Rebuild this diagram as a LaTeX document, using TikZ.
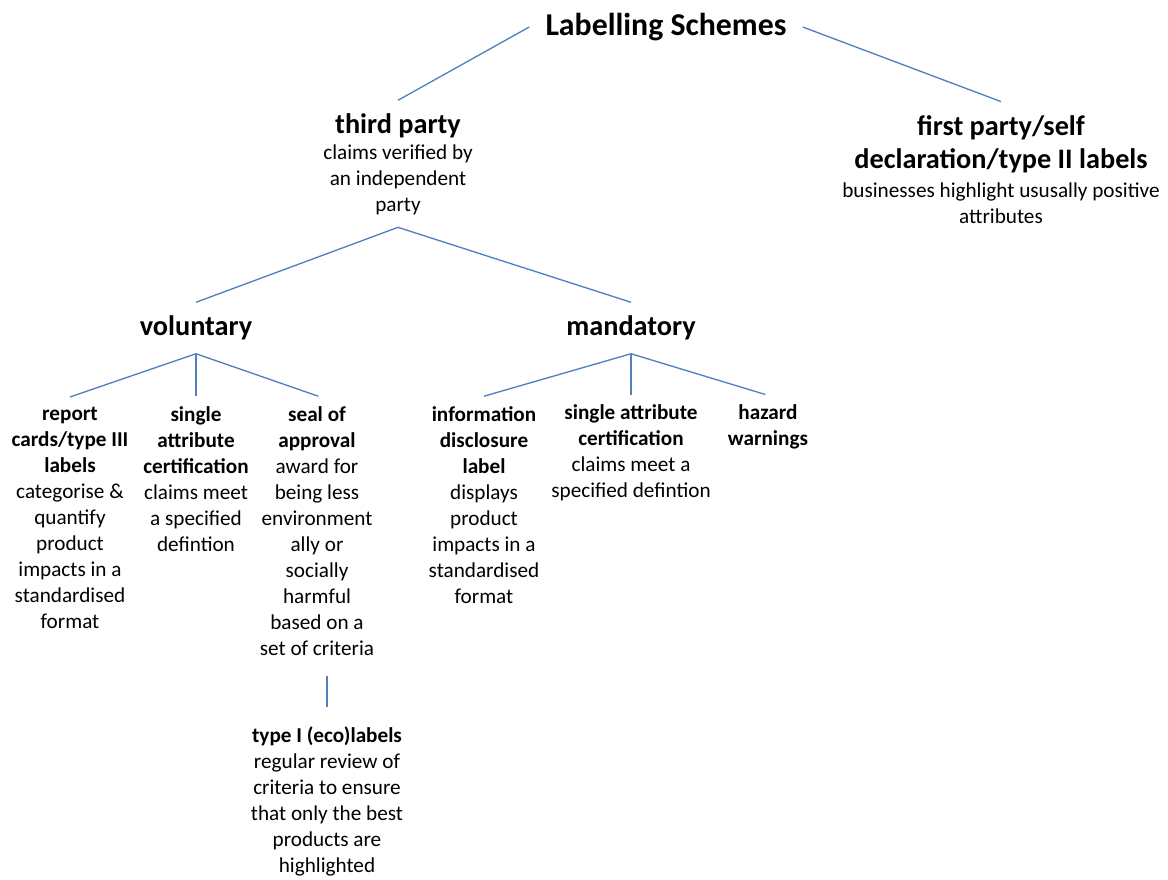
\documentclass[tikz,border=0pt]{standalone}
\usepackage{fontspec}
\setmainfont{Carlito}
\usetikzlibrary{positioning}
\definecolor{linkblue}{HTML}{4F81BD}
\newcommand{\titlesize}{\fontsize{23.85}{29}\selectfont}
\newcommand{\headsize}{\fontsize{21.2}{25}\selectfont}
\newcommand{\bodysize}{\fontsize{15.9}{19.5}\selectfont}

\begin{document}
\begin{tikzpicture}[x=0.75pt,y=-0.75pt,
  top/.style={font=\titlesize\bfseries, inner xsep=12pt, inner ysep=4pt},
  head/.style={font=\headsize\bfseries, align=center, inner sep=10pt},
  txt/.style={font=\bodysize, align=center, inner sep=9pt},
  leaf/.style={font=\bodysize, align=center, inner xsep=2pt, inner ysep=7.5pt},
  link/.style={draw=linkblue, line width=1pt}]
\useasboundingbox (0,0) rectangle (1168,879);

% root and first level
\node[top] (root) at (666,27) {Labelling Schemes};
\node[head] (third) at (398,126) {third party};
\node[txt] (thirdtxt) at (398,180) {claims verified by\\ an independent\\ party};
\node[head] (first) at (1001,144) {first party/self\\ declaration/type II labels};
\node[txt] (firsttxt) at (1001,203) {businesses highlight ususally positive\\ attributes};
\draw[link] (root.west) -- (third.north);
\draw[link] (root.east) -- (first.north);

% voluntary / mandatory
\node[head] (vol) at (196,328) {voluntary};
\node[head] (mand) at (631,328) {mandatory};
\draw[link] (thirdtxt.south) -- (vol.north);
\draw[link] (thirdtxt.south) -- (mand.north);

% voluntary schemes
\node[leaf] (report) at (70,518) {\textbf{report}\\ \textbf{cards/type III}\\ \textbf{labels}\\ categorise \&\\ quantify\\ product\\ impacts in a\\ standardised\\ format};
\node[leaf] (single) at (196,479) {\textbf{single}\\ \textbf{attribute}\\ \textbf{certification}\\ claims meet\\ a specified\\ defintion};
\node[leaf] (seal) at (317,531) {\textbf{seal of}\\ \textbf{approval}\\ award for\\ being less\\ environment\\ ally or\\ socially\\ harmful\\ based on a\\ set of criteria};
\draw[link] (vol.south) -- (report.north);
\draw[link] (vol.south) -- (single.north);
\draw[link] (vol.south) -- ([xshift=1pt]seal.north);

% mandatory schemes
\node[leaf] (info) at (484,505) {\textbf{information}\\ \textbf{disclosure}\\ \textbf{label}\\ displays\\ product\\ impacts in a\\ standardised\\ format};
\node[leaf] (singlem) at (631,453) {\textbf{single attribute}\\ \textbf{certification}\\ claims meet a\\ specified defintion};
\node[leaf] (hazard) at (768,427) {\textbf{hazard}\\ \textbf{warnings}};
\draw[link] (mand.south) -- (info.north);
\draw[link] (mand.south) -- (singlem.north);
\draw[link] (mand.south) -- ([xshift=-2pt]hazard.north);

% ecolabels
\node[leaf] (eco) at (327,801) {\textbf{type I (eco)labels}\\ regular review of\\ criteria to ensure\\ that only the best\\ products are\\ highlighted};
\draw[link, shorten <=8pt, shorten >=7pt] (seal.south -| eco.north) -- (eco.north);
\end{tikzpicture}
\end{document}
